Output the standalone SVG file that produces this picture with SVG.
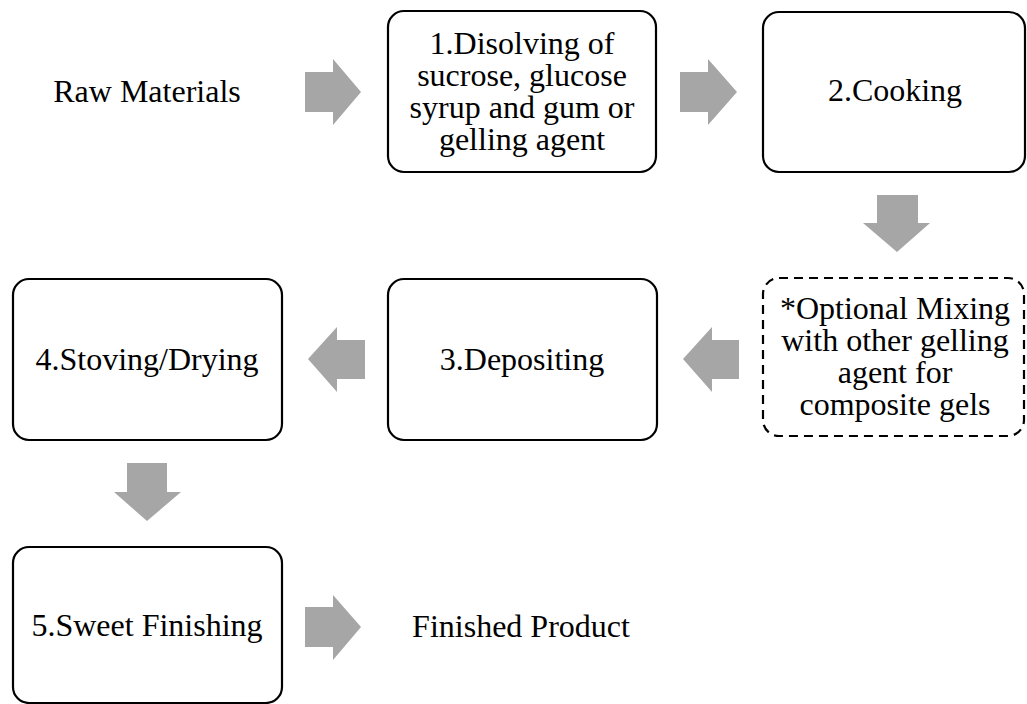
<svg xmlns="http://www.w3.org/2000/svg" width="1027" height="704" viewBox="0 0 1027 704">
<style>
.box{fill:#fff;stroke:#000;stroke-width:2.2}
.dash{fill:#fff;stroke:#000;stroke-width:2.2;stroke-dasharray:9 6}
.arr{fill:#a6a6a6;stroke:none}
.t{font-family:'Liberation Serif','Times New Roman',Tinos,'DejaVu Serif',serif;font-size:32px;fill:#000;text-anchor:middle}
</style>
<rect width="1027" height="704" fill="#fff"/>
<g id="connectors">
<polygon class="arr" points="305,72 333,72 333,59 361,92 333,125 333,112 305,112"/>
<polygon class="arr" points="680,72 708,72 708,59 737,92 708,125 708,112 680,112"/>
<polygon class="arr" points="877,195 918,195 918,223 930,223 897,252 863,223 877,223"/>
<polygon class="arr" points="739,340 712,340 712,327 683,359 712,392 712,379 739,379"/>
<polygon class="arr" points="365,340 337,340 337,327 308,359 337,392 337,379 365,379"/>
<polygon class="arr" points="127,463 167,463 167,492 181,492 147,521 114,492 127,492"/>
<polygon class="arr" points="305,607 333,607 333,595 361,627 333,660 333,647 305,647"/>
</g>
<g id="raw"><text class="t" font-family="Liberation Serif, serif" x="147" y="102">Raw Materials</text></g>
<g id="step1">
<rect class="box" x="388" y="11" width="268" height="161" rx="16"/>
<text class="t" font-family="Liberation Serif, serif" x="522" y="54">1.Disolving of</text>
<text class="t" font-family="Liberation Serif, serif" x="522" y="86">sucrose, glucose</text>
<text class="t" font-family="Liberation Serif, serif" x="522" y="118">syrup and gum or</text>
<text class="t" font-family="Liberation Serif, serif" x="522" y="150">gelling agent</text>
</g>
<g id="step2">
<rect class="box" x="763" y="12" width="262" height="160" rx="16"/>
<text class="t" font-family="Liberation Serif, serif" x="895" y="101">2.Cooking</text>
</g>
<g id="optional">
<rect class="dash" x="763" y="278" width="261" height="158" rx="16"/>
<text class="t" font-family="Liberation Serif, serif" x="895" y="319">*Optional Mixing</text>
<text class="t" font-family="Liberation Serif, serif" x="895" y="351">with other gelling</text>
<text class="t" font-family="Liberation Serif, serif" x="895" y="383">agent for</text>
<text class="t" font-family="Liberation Serif, serif" x="895" y="415">composite gels</text>
</g>
<g id="step3">
<rect class="box" x="388" y="279" width="269" height="161" rx="16"/>
<text class="t" font-family="Liberation Serif, serif" x="522" y="370">3.Depositing</text>
</g>
<g id="step4">
<rect class="box" x="13" y="279" width="269" height="161" rx="16"/>
<text class="t" font-family="Liberation Serif, serif" x="147" y="370">4.Stoving/Drying</text>
</g>
<g id="step5">
<rect class="box" x="13" y="547" width="269" height="156" rx="16"/>
<text class="t" font-family="Liberation Serif, serif" x="147" y="636">5.Sweet Finishing</text>
</g>
<g id="finished"><text class="t" font-family="Liberation Serif, serif" x="521" y="637">Finished Product</text></g>
</svg>
